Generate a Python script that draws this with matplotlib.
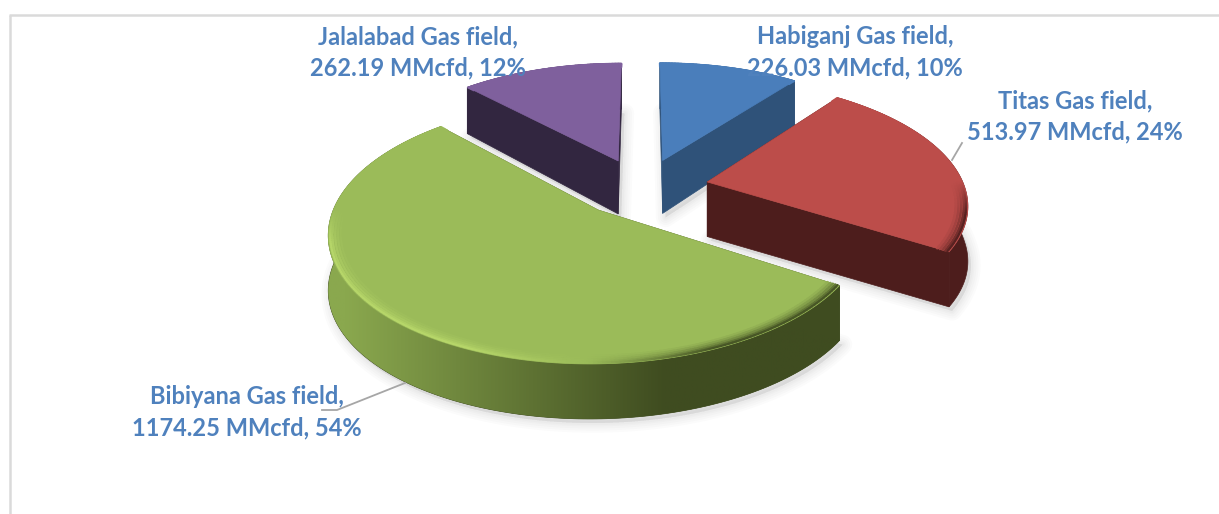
import numpy as np
import matplotlib
matplotlib.use("Agg")
import matplotlib.pyplot as plt
from matplotlib.patches import Polygon
from matplotlib.collections import LineCollection
from matplotlib.colors import to_rgb

fields = ["Habiganj Gas field", "Titas Gas field", "Bibiyana Gas field", "Jalalabad Gas field"]
values = [226.03, 513.97, 1174.25, 262.19]
percents = [10, 24, 54, 12]
top_colors = ["#4a7ebb", "#bc4d4a", "#9bbb59", "#7f609d"]
cut_colors = ["#2f5279", "#4d1d1c", "#3f4c20", "#322640"]
label_pos = [(855, 52), (1075, 116), (247, 412), (418, 52)]
# painter order, back to front
draw_order = [3, 0, 1, 2]

# pie geometry in pixels
cx, cy = 642, 187
rx, ry = 278, 121
k = 0.16
depth = 55
explode = 0.24
radius_x = 0.925


def project(u, v, z=0.0):
    w = 1 + k * v
    # walls get a bit shorter towards the back
    d = depth - 9 * np.clip(v, 0, 1)
    return cx + rx * u / w, cy - ry * v / w + z * d


def blend(c1, c2, f):
    c1, c2 = np.array(to_rgb(c1)), np.array(to_rgb(c2))
    return tuple(c1 + (c2 - c1) * np.clip(f, 0, 1))


def rim_color(i, t):
    # rounded edge: bright on the left of the front, dark towards the right
    s = np.sin(t)
    if s < 0:
        return blend(top_colors[i], "#b6d669" if i == 2 else top_colors[i], min(1, -s * 2.5))
    return blend(top_colors[i], cut_colors[i], 0.9 * min(1, s * 2.5))


fig = plt.figure(figsize=(12.19, 5.14), dpi=100)
ax = fig.add_axes([0, 0, 1, 1])
ax.axis("off")

ax.plot([9.5, 9.5], [514, 15], color="#dadada", lw=1.8, solid_capstyle="butt")
ax.plot([9, 1219], [15, 15], color="#dadada", lw=1.8, solid_capstyle="butt")

ends = np.cumsum(values) / np.sum(values) * 2 * np.pi
starts = np.r_[0, ends[:-1]]

for i in draw_order:
    t0, t1 = starts[i], ends[i]
    mid = (t0 + t1) / 2
    ou, ov = explode * np.sin(mid), explode * np.cos(mid)
    ts = np.linspace(t0, t1, int((t1 - t0) * 70) + 2)
    us, vs = ou + radius_x * np.sin(ts), ov + np.cos(ts)

    # soft shadow under the slice
    bx, by = project(np.r_[ou, us], np.r_[ov, vs], 1.0)
    for lw in [14, 11, 8, 5, 3]:
        ax.add_patch(Polygon(np.c_[bx + 3, by + 4], closed=True, fc="#808080", ec="#808080",
                             lw=lw, alpha=0.03, joinstyle="round", zorder=1))

    z = 2 + draw_order.index(i)
    # outer wall, the big slice has a gradient on it
    xa, ya = project(us, vs)
    xb, yb = project(us, vs, 1.0)
    wall = Polygon(np.c_[np.r_[xa, xb[::-1]], np.r_[ya, yb[::-1]]], closed=True, fc=cut_colors[i],
                   ec=cut_colors[i], lw=0.5, zorder=z)
    ax.add_patch(wall)
    if i == 2:
        x0, x1 = xa.min(), xa.max()
        xs = np.linspace(x0, x1, 400)
        grad = np.array([[blend("#8aa84e", cut_colors[2], (x - 345) / 320) for x in xs]])
        im = ax.imshow(grad, extent=[x0, x1, yb.max() + 2, ya.min() - 2], aspect="auto", zorder=z)
        im.set_clip_path(wall)
    # cut faces
    for t in [t0, t1]:
        u = np.array([ou, ou + radius_x * np.sin(t)])
        v = np.array([ov, ov + np.cos(t)])
        xa, ya = project(u, v)
        xb, yb = project(u, v, 1.0)
        ax.fill(np.r_[xa, xb[::-1]], np.r_[ya, yb[::-1]], fc=cut_colors[i], ec=cut_colors[i], lw=0.5, zorder=z)
    # top face
    tx, ty = project(np.r_[ou, us], np.r_[ov, vs])
    ax.add_patch(Polygon(np.c_[tx, ty], closed=True, fc=top_colors[i], ec=top_colors[i], lw=0.5, zorder=z))
    # bevel along the front of the arc, outer band drawn last
    for r, f in [(0.955, 0.1), (0.965, 0.25), (0.975, 0.45), (0.985, 0.7), (0.993, 1.0)]:
        sa, ca = radius_x * r * np.sin(ts), r * np.cos(ts)
        px, py = project(ou + sa, ov + ca)
        segs = np.stack([np.c_[px[:-1], py[:-1]], np.c_[px[1:], py[1:]]], axis=1)
        cols = []
        for t in ts[:-1]:
            fade = np.clip(-np.cos(t) * 4, 0, 1)
            cols.append(blend(top_colors[i], rim_color(i, t), f * fade))
        ax.add_collection(LineCollection(segs, colors=cols, linewidths=1.6, capstyle="round", zorder=z))

ax.set_xlim(0, 1219)
ax.set_ylim(514, 0)

# leader lines
ax.plot([322, 337, 405], [410, 410, 383], color="#a6a6a6", lw=1.3, zorder=8)
ax.plot([952, 962], [160, 143], color="#a6a6a6", lw=1.3, zorder=8)

for name, val, pct, (x, y) in zip(fields, values, percents, label_pos):
    ax.text(x, y, f"{name},\n{val:.2f} MMcfd, {pct}%", color="#4f81bd", fontsize=17,
            fontweight="bold", family="Lato", ha="center", va="center", linespacing=1.42, zorder=10)

fig.savefig("out.png", dpi=100)
